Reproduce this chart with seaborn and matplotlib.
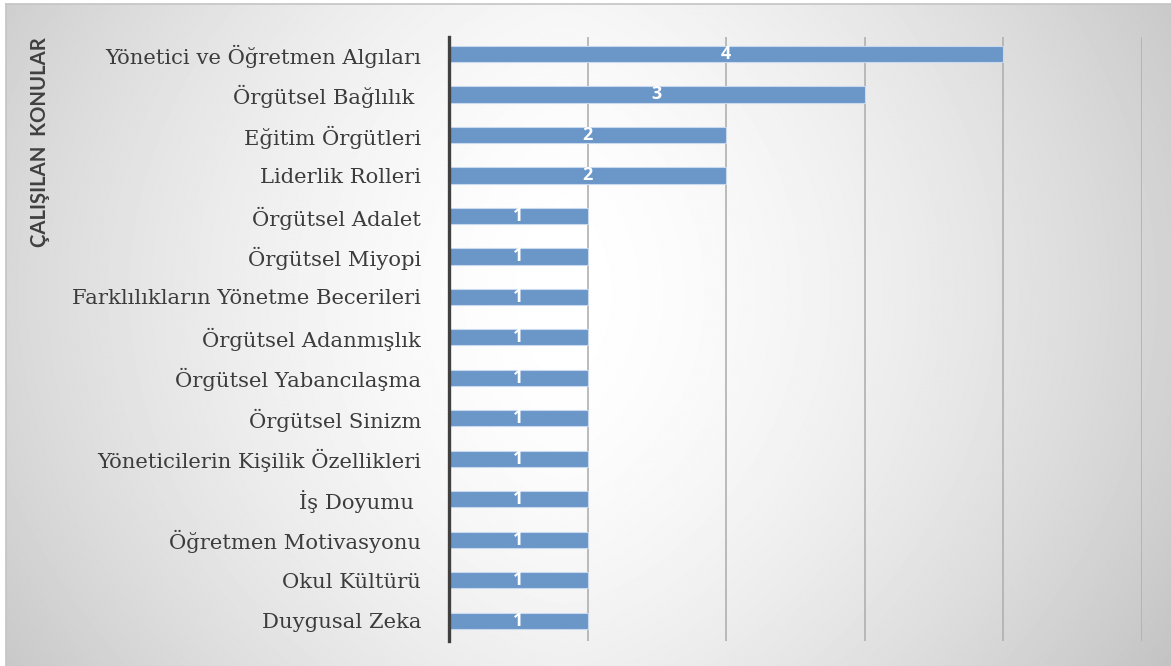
import numpy as np
import pandas as pd
import matplotlib
matplotlib.use('Agg')
import matplotlib.pyplot as plt
import seaborn as sns

# data
konular = ['Yönetici ve Öğretmen Algıları', 'Örgütsel Bağlılık ', 'Eğitim Örgütleri',
           'Liderlik Rolleri', 'Örgütsel Adalet', 'Örgütsel Miyopi',
           'Farklılıkların Yönetme Becerileri', 'Örgütsel Adanmışlık',
           'Örgütsel Yabancılaşma', 'Örgütsel Sinizm',
           'Yöneticilerin Kişilik Özellikleri', 'İş Doyumu ', 'Öğretmen Motivasyonu',
           'Okul Kültürü', 'Duygusal Zeka']
sayilar = [4, 3, 2, 2, 1, 1, 1, 1, 1, 1, 1, 1, 1, 1, 1]

df = pd.DataFrame({'konu': konular, 'sayi': sayilar})

sns.set_style('white')
W, H = 1171, 666
fig = plt.figure(figsize=(W / 100, H / 100), dpi=100)
fig.patch.set_facecolor('white')

# gray radial background, lighter in the middle
bg = fig.add_axes([6 / W, 0, 1 - 6 / W, 1 - 4 / H], zorder=-5)
yy, xx = np.mgrid[0:H, 0:W]
dx = np.abs(xx - 560) / 600.0
dy = np.abs(yy - 290) / 370.0
drop = 0.17 * dx ** 1.5 + 0.06 * dy ** 2
shade = 1.0 - drop
bg.imshow(shade, cmap='gray', vmin=0, vmax=1, aspect='auto', interpolation='bilinear')
bg.set_xticks([])
bg.set_yticks([])
for s in ['right', 'bottom']:
    bg.spines[s].set_visible(False)
for s in ['top', 'left']:
    bg.spines[s].set_color('#c4c4c4')
    bg.spines[s].set_linewidth(1.2)

ax = fig.add_axes([449 / W, 1 - 641 / H, (1142 - 449) / W, (641 - 37) / H])
ax.patch.set_alpha(0)
sns.barplot(data=df, x='sayi', y='konu', orient='h', color='#6a96c8',
            saturation=1, width=0.4, edgecolor='#c9d9ee', linewidth=0.8, ax=ax)

ax.set_xlim(0, 5)
ax.set_ylim(14.5, -0.42)
ax.set_xticks(range(0, 6))
ax.xaxis.grid(True, color='#b0b0b0', linewidth=1.2)
ax.set_axisbelow(True)
ax.tick_params(axis='x', length=0, labelbottom=False)
ax.tick_params(axis='y', length=0, pad=20)
for s in ['top', 'right', 'bottom']:
    ax.spines[s].set_visible(False)
ax.spines['left'].set_color('#404040')
ax.spines['left'].set_linewidth(2.4)
ax.set_xlabel('')
ax.set_ylabel('')

for lab in ax.get_yticklabels():
    lab.set_fontfamily('DejaVu Serif')
    lab.set_fontsize(15.2)
    lab.set_color('#3c3c3c')

# value labels in the middle of each bar
for i, v in enumerate(sayilar):
    ax.text(v / 2, i, str(v), ha='center', va='center', color='white',
            fontsize=13, fontweight='bold', family='Open Sans')

fig.text(40 / W, 1 - 37 / H, 'ÇALIŞILAN  KONULAR', rotation=90, ha='center', va='top',
         fontsize=14.6, fontweight='bold', family='Lato', color='#404040')

fig.savefig('out.png', dpi=100)
